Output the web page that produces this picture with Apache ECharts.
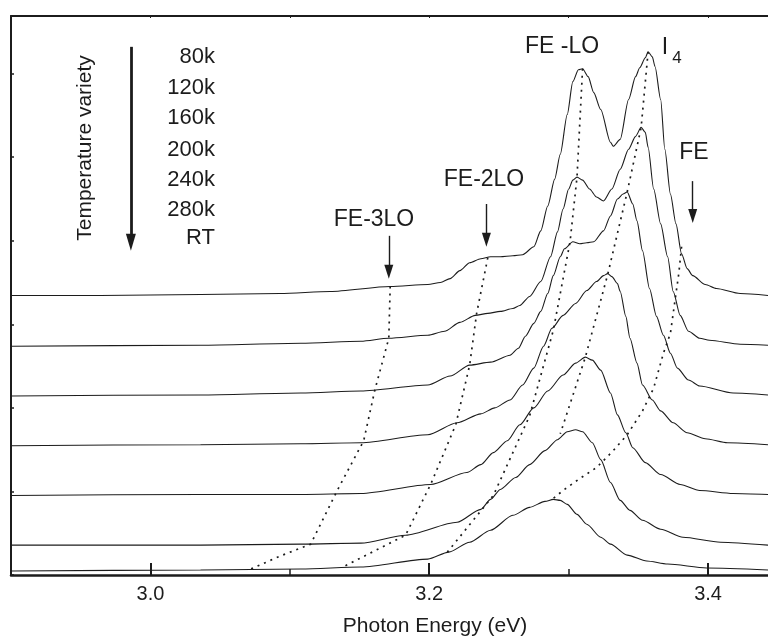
<!DOCTYPE html>
<html>
<head>
<meta charset="utf-8">
<script src="https://cdn.jsdelivr.net/npm/echarts@6/dist/echarts.min.js"></script>
<style>
html, body { margin: 0; padding: 0; background: #fff; }
#main { width: 768px; height: 642px; }
</style>
</head>
<body>
<div id="main"></div>
<script>
// PL spectra, photon energy (eV) vs intensity (a.u., stacked offsets)
var temps = ['80k', '120k', '160k', '200k', '240k', '280k', 'RT'];
var xTicksMajor = [3.0, 3.2, 3.4];
var xTicksMinor = [3.1, 3.3];

var s80k = [[2.900,281],[2.964,281],[3.036,282],[3.093,283],[3.129,285],[3.172,290],[3.199,292],[3.208,294],[3.215,298],[3.222,306],[3.229,314],[3.237,318],[3.244,320],[3.251,320],[3.260,321],[3.267,322],[3.275,330],[3.280,346],[3.285,371],[3.290,398],[3.294,423],[3.299,463],[3.303,496],[3.307,508],[3.310,509],[3.314,501],[3.318,485],[3.323,468],[3.330,435],[3.332,431],[3.337,438],[3.343,478],[3.348,501],[3.351,510],[3.355,520],[3.357,526],[3.360,521],[3.362,511],[3.366,478],[3.369,428],[3.373,383],[3.377,353],[3.381,323],[3.385,308],[3.389,301],[3.398,292],[3.406,288],[3.423,283],[3.443,281]];
var s120k = [[2.900,230],[3.036,231],[3.108,233],[3.151,235],[3.171,238],[3.199,241],[3.211,245],[3.222,254],[3.233,261],[3.242,263],[3.251,265],[3.260,268],[3.265,271],[3.272,280],[3.280,295],[3.287,320],[3.292,345],[3.296,368],[3.300,388],[3.303,397],[3.306,400],[3.310,397],[3.315,388],[3.320,380],[3.325,376],[3.331,388],[3.337,408],[3.343,428],[3.348,441],[3.352,450],[3.355,445],[3.357,430],[3.361,388],[3.366,353],[3.371,320],[3.375,285],[3.380,261],[3.386,245],[3.394,238],[3.401,236],[3.423,232],[3.443,231]];
var s160k = [[2.900,180],[3.036,181],[3.108,183],[3.151,185],[3.199,191],[3.215,200],[3.229,211],[3.244,214],[3.258,221],[3.264,228],[3.269,240],[3.275,253],[3.280,265],[3.285,283],[3.289,301],[3.294,320],[3.297,328],[3.303,335],[3.308,333],[3.313,334],[3.318,335],[3.325,346],[3.330,361],[3.335,378],[3.339,383],[3.342,385],[3.346,373],[3.349,356],[3.353,326],[3.358,288],[3.363,260],[3.368,241],[3.373,223],[3.378,208],[3.386,196],[3.394,190],[3.418,183],[3.443,181]];
var s200k = [[2.900,130],[3.036,131],[3.108,132],[3.151,133],[3.199,141],[3.220,153],[3.237,162],[3.247,168],[3.258,176],[3.267,191],[3.275,208],[3.282,230],[3.288,248],[3.296,261],[3.305,273],[3.313,286],[3.320,295],[3.325,301],[3.328,303],[3.331,300],[3.335,293],[3.337,285],[3.341,260],[3.344,238],[3.349,213],[3.353,191],[3.360,176],[3.366,165],[3.375,153],[3.385,143],[3.398,137],[3.414,133],[3.443,131]];
var s240k = [[2.900,80],[3.036,81],[3.108,81],[3.151,82],[3.201,91],[3.227,103],[3.237,111],[3.246,123],[3.256,135],[3.265,151],[3.275,168],[3.285,185],[3.296,201],[3.305,213],[3.312,219],[3.317,216],[3.323,206],[3.330,183],[3.335,161],[3.341,143],[3.346,128],[3.355,113],[3.366,101],[3.380,91],[3.394,85],[3.418,82],[3.443,81]];
var s280k = [[2.900,30],[3.036,30],[3.108,31],[3.151,32],[3.183,40],[3.220,53],[3.237,66],[3.244,76],[3.251,86],[3.262,98],[3.272,111],[3.283,125],[3.292,136],[3.299,144],[3.305,146],[3.310,144],[3.317,133],[3.323,116],[3.330,93],[3.337,75],[3.344,65],[3.353,55],[3.366,46],[3.382,38],[3.409,33],[3.443,30]];
var sRT = [[2.900,4],[3.036,5],[3.108,6],[3.151,8],[3.199,16],[3.214,23],[3.229,33],[3.244,45],[3.260,60],[3.272,68],[3.283,74],[3.289,76],[3.294,75],[3.299,71],[3.306,61],[3.313,51],[3.323,38],[3.330,31],[3.342,20],[3.356,14],[3.371,11],[3.399,7],[3.443,5]];

// peak tracking (dotted)
var trFE3LO = [[3.172,290],[3.171,238],[3.161,186],[3.153,135],[3.134,85],[3.115,31],[3.093,19],[3.072,6]];
var trFE2LO = [[3.242,319],[3.234,263],[3.229,211],[3.219,151],[3.201,91],[3.183,40],[3.138,8]];
var trFELO = [[3.310,509],[3.306,400],[3.301,335],[3.289,246],[3.272,160],[3.246,80],[3.213,23]];
var trI4 = [[3.357,526],[3.352,450],[3.342,385],[3.328,302],[3.312,219],[3.294,142]];
var trFE = [[3.381,330],[3.379,303],[3.376,273],[3.373,243],[3.368,223],[3.361,188],[3.353,165],[3.342,141],[3.332,125],[3.320,108],[3.308,97],[3.296,85],[3.289,77]];

// arrows: x, tail, tip
var arrows = [[2.986, 531, 326], [3.171, 341, 298], [3.241, 373, 330], [3.389, 396, 354]];

var spectra = [s80k, s120k, s160k, s200k, s240k, s280k, sRT];
var tracks = [trFE3LO, trFE2LO, trFELO, trI4, trFE];

var FONT = '"Liberation Sans", Arial, Helvetica, sans-serif';
var INK = '#1c1c1c';

var chart = echarts.init(document.getElementById('main'));

var series = [];
spectra.forEach(function (d, i) {
    series.push({
        name: temps[i],
        type: 'line',
        data: d,
        showSymbol: false,
        smooth: 0.25,
        smoothMonotone: 'x',
        lineStyle: { color: INK, width: 1.1 },
        silent: true
    });
});
tracks.forEach(function (d) {
    series.push({
        type: 'line',
        data: d,
        showSymbol: false,
        lineStyle: { color: INK, width: 1.7, type: [2, 5] },
        silent: true
    });
});

var arrowData = arrows.map(function (a, i) {
    var big = i === 0;
    var len = big ? 17 : 14;
    return [{
        coord: [a[0], a[1]],
        symbol: 'none'
    }, {
        coord: [a[0], a[2] + len / 2],
        symbol: 'triangle',
        symbolSize: [big ? 10 : 9, len],
        lineStyle: { width: big ? 2.8 : 1.4, color: INK, type: 'solid' }
    }];
});
series[0].markLine = {
    silent: true,
    symbol: ['none', 'triangle'],
    label: { show: false },
    lineStyle: { color: INK, type: 'solid' },
    itemStyle: { color: INK },
    animation: false,
    data: arrowData
};

var texts = [];
var rowY = [57, 88, 118, 150, 180, 210, 238];
temps.forEach(function (t, i) {
    texts.push({
        type: 'text', x: 215, y: rowY[i],
        style: { text: t, fill: INK, font: '22px ' + FONT, align: 'right', verticalAlign: 'middle' }
    });
});
texts.push({
    type: 'text', x: 85, y: 148, rotation: Math.PI / 2,
    style: { text: 'Temperature variety', fill: INK, font: '21px ' + FONT, align: 'center', verticalAlign: 'middle' }
});
[['FE-3LO', 374, 220], ['FE-2LO', 484, 180], ['FE -LO', 562, 47], ['FE', 694, 153], ['I', 665, 48]].forEach(function (l) {
    texts.push({
        type: 'text', x: l[1], y: l[2],
        style: { text: l[0], fill: INK, font: '23px ' + FONT, align: 'center', verticalAlign: 'middle' }
    });
});
texts.push({
    type: 'text', x: 677, y: 58,
    style: { text: '4', fill: INK, font: '17px ' + FONT, align: 'center', verticalAlign: 'middle' }
});

var option = {
    animation: false,
    backgroundColor: '#fff',
    textStyle: { fontFamily: FONT, color: INK },
    grid: { left: 11, top: 16, right: 0, height: 562, containLabel: false },
    xAxis: [{
        type: 'value',
        min: 2.9,
        max: 3.443,
        position: 'bottom',
        name: 'Photon Energy (eV)',
        nameLocation: 'middle',
        nameGap: 41,
        nameTextStyle: { fontSize: 21, color: INK, fontFamily: FONT, padding: [0, 0, 0, 91] },
        axisLine: { show: true, onZero: false, lineStyle: { color: INK, width: 2.5 } },
        axisTick: { show: true, inside: true, length: 12, customValues: xTicksMajor, lineStyle: { color: INK, width: 2 } },
        axisLabel: {
            show: true, customValues: xTicksMajor, margin: 9, fontSize: 20, color: INK, fontFamily: FONT,
            formatter: function (v) { return v.toFixed(1); }
        },
        splitLine: { show: false }
    }, {
        type: 'value',
        min: 2.9,
        max: 3.443,
        position: 'bottom',
        axisLine: { show: false },
        axisTick: { show: true, inside: true, length: 6, customValues: xTicksMinor, lineStyle: { color: INK, width: 1.5 } },
        axisLabel: { show: false },
        splitLine: { show: false }
    }, {
        type: 'value',
        min: 2.9,
        max: 3.443,
        position: 'top',
        axisLine: { show: true, onZero: false, lineStyle: { color: INK, width: 2 } },
        axisTick: { show: true, inside: true, length: 2, customValues: xTicksMajor.concat(xTicksMinor), lineStyle: { color: INK, width: 1 } },
        axisLabel: { show: false },
        splitLine: { show: false }
    }],
    yAxis: {
        type: 'value',
        min: 0,
        max: 562,
        interval: 84,
        axisLine: { show: true, onZero: false, lineStyle: { color: INK, width: 2 } },
        axisTick: { show: true, inside: true, length: 3, lineStyle: { color: INK, width: 1.5 } },
        axisLabel: { show: false },
        splitLine: { show: false }
    },
    graphic: texts,
    series: series
};

chart.setOption(option);
</script>
</body>
</html>
